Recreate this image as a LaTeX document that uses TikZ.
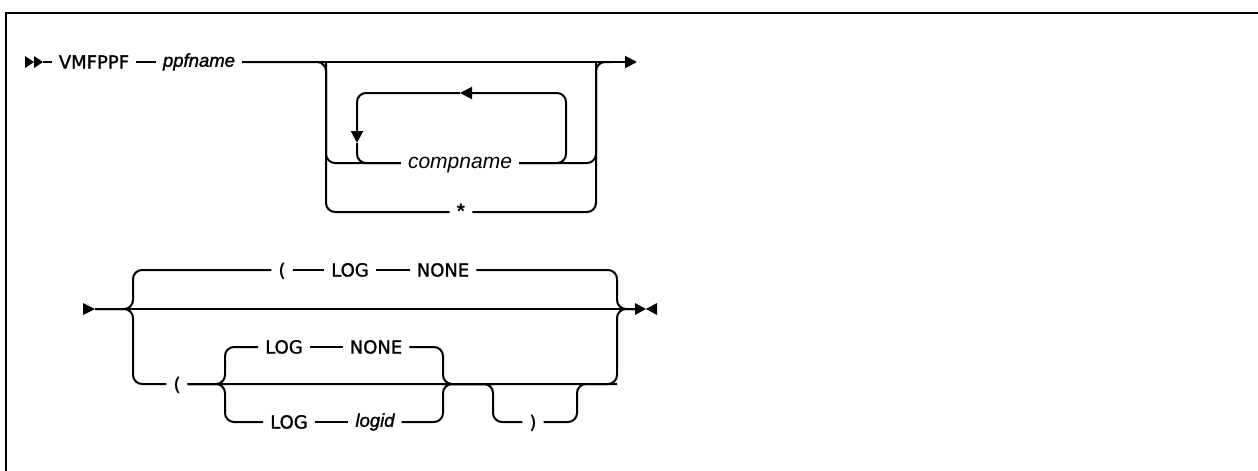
\documentclass[tikz,border=0pt]{standalone}
\usepackage{fontspec}
\setmainfont{Liberation Sans}
\newfontfamily\kwfont[FakeBold=1.4]{DejaVu Sans}
\newfontfamily\varfont[FakeBold=1.4]{Liberation Sans}
\usetikzlibrary{arrows.meta}
\begin{document}
\begin{tikzpicture}[x=1pt,y=-1pt,
  ln/.style={line width=2pt},
  rr/.style={line width=2pt, rounded corners=9pt},
  tri/.style={-{Triangle[length=12pt,width=12pt]}},
  kw/.style={inner xsep=7pt, inner ysep=0pt, text height=13pt, text depth=0pt, font=\kwfont\fontsize{18}{20}\selectfont},
  var/.style={inner xsep=7pt, inner ysep=0pt, text height=9.5pt, text depth=0pt, font=\varfont\fontsize{18.5}{20}\selectfont\itshape},
  cvar/.style={inner xsep=7pt, inner ysep=0pt, text height=11pt, text depth=0pt, font=\fontsize{21}{23}\selectfont\itshape},
]
\useasboundingbox (0,0) rectangle (1258,471);
\draw[line width=2pt] (1262,13) -- (6,13) -- (6,475);

% ---------- row 1 ----------
\coordinate (st1) at (43,62);
\fill (25,56) -- (34,62) -- (25,68) -- cycle;
\fill (34,56) -- (43,62) -- (34,68) -- cycle;
\node[kw] (vm) at (94,62) {VMFPPF};
\node[var] (pp) at (199,62) {ppfname};
\node[cvar] (cn) at (460,163) {compname};
\node[kw, font=\fontsize{21}{22}\selectfont\bfseries] (sr) at (461,212) {*};
\coordinate (e1) at (637,62);
\coordinate (b1) at (326,62);
\coordinate (b2) at (596,62);
\coordinate (b2e) at (612,62);
\coordinate (lpL) at (357,93);
\coordinate (lpR) at (566,93);
\coordinate (la1) at (460,93);
\coordinate (la2) at (357,143);

\draw[ln] (st1) -- (vm.west);
\draw[ln] (vm.east) -- (pp.west);
\draw[ln,tri] (pp.east) -- (e1);
\draw[rr] (pp.east) -- (b1) -- (b1 |- sr) -- (sr.west);
\draw[rr] (b1) -- (b1 |- cn) -- (cn.west);
\draw[rr] (sr.east) -- (b2 |- sr) -- (b2) -- (b2e);
\draw[rr] (cn.east) -- (b2 |- cn) -- (b2);
% repeat loop
\draw[rr,tri] (cn.east) -- (lpR |- cn) -- (lpR) -- (la1);
\draw[rr,tri] (la1) -- (lpL) -- (la2);
\draw[rr] (la2) -- (lpL |- cn) -- (cn.west);

% ---------- row 2 ----------
\coordinate (st2) at (95,309);
\fill (83,303) -- (95,309) -- (83,315) -- cycle;
\coordinate (en2) at (635,309);
\fill (635,303) -- (646,309) -- (635,315) -- cycle;
\fill (657,303) -- (646,309) -- (657,315) -- cycle;
\coordinate (j1) at (133,309);
\coordinate (j2) at (617,309);

\node[kw] (p1) at (282,270) {(};
\node[kw] (l1) at (350,270) {LOG};
\node[kw] (n1) at (443,270) {NONE};
\node[kw] (p2) at (177,384) {(};
\node[kw] (l2) at (284,347) {LOG};
\node[kw] (n2) at (376,347) {NONE};
\node[kw] (l3) at (289,422) {LOG};
\node[var] (lg) at (375,422) {logid};
\node[kw] (pc) at (533,422) {)};
\coordinate (k1) at (225,384);
\coordinate (k2) at (443,384);
\coordinate (m1) at (493,384);
\coordinate (m2) at (577,384);

\draw[ln] (st2) -- (en2);
\draw[rr] (st2) -- (j1) -- (j1 |- p1) -- (p1.west);
\draw[ln] (p1.east) -- (l1.west);
\draw[ln] (l1.east) -- (n1.west);
\draw[rr] (n1.east) -- (j2 |- n1) -- (j2) -- (en2);
\draw[rr] (st2) -- (j1) -- (j1 |- p2) -- (p2.west);
\draw[rr] (p2.east) -- (j2 |- p2) -- (j2) -- (en2);
\draw[rr] (p2.east) -- (k1) -- (k1 |- l2) -- (l2.west);
\draw[ln] (l2.east) -- (n2.west);
\draw[rr] (n2.east) -- (k2 |- n2) -- (k2) -- (m1);
\draw[rr] (p2.east) -- (k1) -- (k1 |- l3) -- (l3.west);
\draw[ln] (l3.east) -- (lg.west);
\draw[rr] (lg.east) -- (k2 |- lg) -- (k2) -- (m1);
\draw[rr] (k2) -- (m1) -- (m1 |- pc) -- (pc.west);
\draw[rr] (pc.east) -- (m2 |- pc) -- (m2) -- (j2 |- p2);
\end{tikzpicture}
\end{document}
